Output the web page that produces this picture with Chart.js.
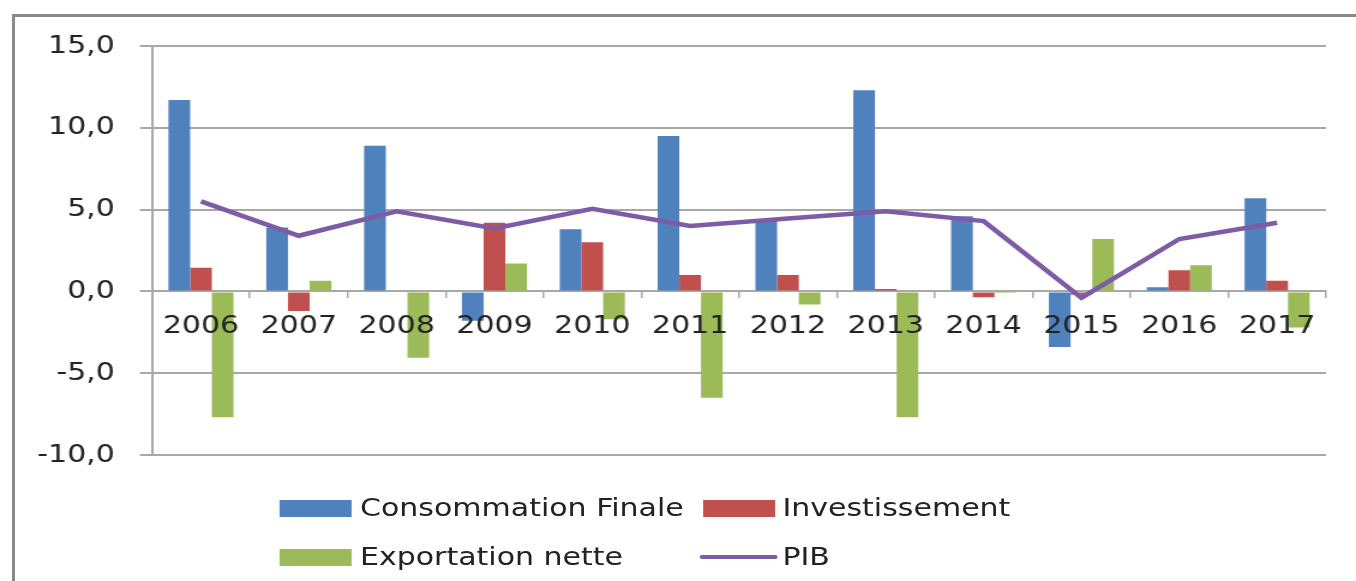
<!DOCTYPE html>
<html>
<head>
<meta charset="utf-8">
<script src="https://cdn.jsdelivr.net/npm/chart.js@4"></script>
<style>
  html, body { margin: 0; padding: 0; background: #fff; overflow: hidden; width: 1356px; height: 581px; }
  #frame { position: absolute; left: 12px; top: 14px; width: 1400px; height: 620px; border: 3px solid #8a8a8a; box-sizing: border-box; }
  #wrap { position: absolute; left: 0; top: 0; width: 1130px; height: 581px; transform: scaleX(1.2); transform-origin: 0 0; }
  #legend { position: absolute; left: 0; top: 0; width: 1130px; height: 581px; font-family: "DejaVu Sans", sans-serif; font-size: 25px; color: #222; }
  .sw { position: absolute; }
  .lt { position: absolute; line-height: 30px; white-space: nowrap; }
</style>
</head>
<body>
<div id="frame"></div>
<div id="wrap">
  <canvas id="chart" width="1130" height="581"></canvas>
  <div id="legend"></div>
</div>
<script>
var years = ["2006", "2007", "2008", "2009", "2010", "2011", "2012", "2013", "2014", "2015", "2016", "2017"];
var consommation = [11.7, 3.9, 8.9, -1.8, 3.8, 9.5, 4.3, 12.3, 4.6, -3.4, 0.25, 5.7];
var investissement = [1.45, -1.2, 0, 4.2, 3.0, 1.0, 1.0, 0.15, -0.35, -0.2, 1.3, 0.65];
var exportation = [-7.7, 0.65, -4.05, 1.7, -1.7, -6.5, -0.8, -7.7, -0.1, 3.2, 1.6, -2.2];
var pib = [5.5, 3.4, 4.9, 3.85, 5.05, 4.0, 4.45, 4.9, 4.3, -0.4, 3.2, 4.2];
var yTicks = [-10, -5, 0, 5, 10, 15];

var fontFamily = "'DejaVu Sans', sans-serif";
var gridColor = "#a8a8a8";

var datasets = [
  { type: "bar", label: "Consommation Finale", data: consommation, backgroundColor: "#4F81BD", order: 1 },
  { type: "bar", label: "Investissement", data: investissement, backgroundColor: "#C0504D", order: 1 },
  { type: "bar", label: "Exportation nette", data: exportation, backgroundColor: "#9BBB59", order: 1 },
  { type: "line", label: "PIB", data: pib, borderColor: "#7D5BA6", backgroundColor: "#7D5BA6",
    borderWidth: 4.5, pointRadius: 0, tension: 0, fill: false, order: 0 }
];

new Chart(document.getElementById("chart").getContext("2d"), {
  type: "bar",
  data: { labels: years, datasets: datasets },
  options: {
    responsive: false,
    animation: false,
    layout: { padding: { left: 0, right: 25, top: 46, bottom: 126 } },
    datasets: { bar: { barPercentage: 1, categoryPercentage: 0.665 } },
    plugins: { legend: { display: false }, tooltip: { enabled: false } },
    scales: {
      x: {
        position: { y: 0 },
        offset: true,
        grid: { offset: true, drawOnChartArea: false, drawTicks: true, tickLength: 6, color: gridColor, lineWidth: 1.5 },
        border: { display: true, color: gridColor, width: 2 },
        // year labels sit on top of the bars, as in the original
        ticks: { z: 1, font: { family: fontFamily, size: 25 }, color: "#222", padding: 14, maxRotation: 0, autoSkip: false }
      },
      y: {
        min: -10,
        max: 15,
        afterBuildTicks: function (scale) {
          scale.ticks = yTicks.map(function (v) { return { value: v }; });
        },
        afterFit: function (scale) { scale.width = 126.7; },
        grid: { color: gridColor, lineWidth: 2, tickLength: 10 },
        border: { display: true, color: gridColor, width: 2 },
        ticks: {
          font: { family: fontFamily, size: 25 }, color: "#222", padding: 21,
          callback: function (v) { return v.toFixed(1).replace(".", ","); }
        }
      }
    }
  }
});

// legend laid out like the original two-column grid
var legendPos = [
  { sx: 233, sy: 500, tx: 300, ty: 493 },
  { sx: 586, sy: 500, tx: 652, ty: 493 },
  { sx: 233, sy: 549, tx: 300, ty: 542 },
  { sx: 586, sy: 549, tx: 652, ty: 542 }
];
var legend = document.getElementById("legend");
datasets.forEach(function (ds, i) {
  var p = legendPos[i];
  var sw = document.createElement("div");
  sw.className = "sw";
  if (ds.type === "line") {
    sw.style.left = (p.sx - 3) + "px";
    sw.style.top = (p.sy + 6) + "px";
    sw.style.width = "65px";
    sw.style.height = "4px";
    sw.style.borderRadius = "2px";
  } else {
    sw.style.left = p.sx + "px";
    sw.style.top = p.sy + "px";
    sw.style.width = "60px";
    sw.style.height = "17px";
  }
  sw.style.background = ds.type === "line" ? ds.borderColor : ds.backgroundColor;
  legend.appendChild(sw);
  var t = document.createElement("div");
  t.className = "lt";
  t.style.left = p.tx + "px";
  t.style.top = p.ty + "px";
  t.textContent = ds.label;
  legend.appendChild(t);
});
</script>
</body>
</html>
